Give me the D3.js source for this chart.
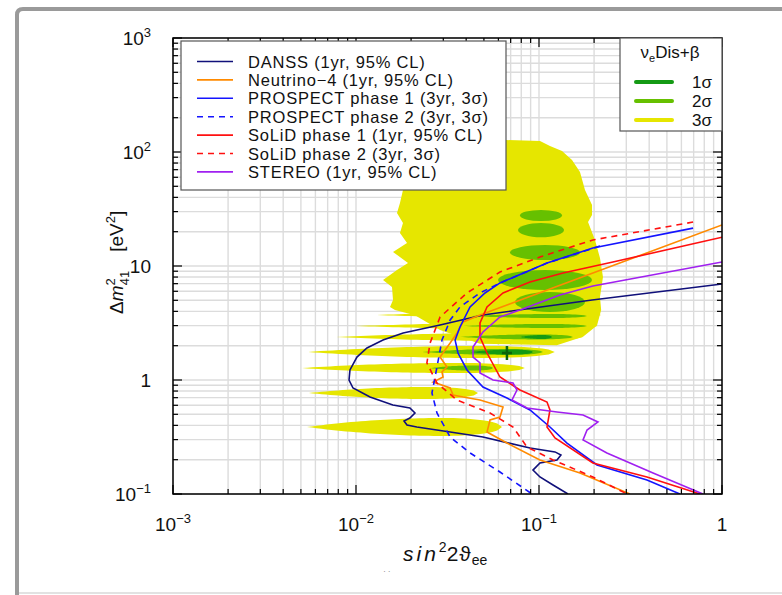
<!DOCTYPE html>
<html>
<head>
<meta charset="utf-8">
<script src="https://cdn.jsdelivr.net/npm/d3@7"></script>
<style>
body { margin: 0; background: #fff; }
svg { display: block; font-family: "Liberation Sans", Arial, Helvetica, sans-serif; }
</style>
</head>
<body>
<svg id="chart" width="782" height="595"></svg>
<script>
// axis ticks
var xTicks = [1e-3, 1e-2, 1e-1, 1];
var xTickLabels = [["10", "\u22123"], ["10", "\u22122"], ["10", "\u22121"], ["1", ""]];
var yTicks = [0.1, 1, 10, 100, 1000];
var yTickLabels = [["10", "\u22121"], ["1", ""], ["10", ""], ["10", "2"], ["10", "3"]];

// sensitivity curves [sin^2 2theta, dm^2]
var danss = [[1.0,6.95],[0.195,5.03],[0.0494,3.72],[0.0288,3.04],[0.0181,2.58],[0.01405,2.24],[0.01148,1.91],
  [0.01012,1.59],[0.00927,1.224],[0.00916,1.0],[0.00963,0.851],[0.01193,0.709],[0.0159,0.604],[0.0197,0.568],
  [0.0210,0.514],[0.0197,0.464],[0.0183,0.437],[0.0190,0.403],[0.0215,0.387],[0.0327,0.350],[0.0494,0.316],
  [0.0893,0.253],[0.1223,0.234],[0.1318,0.220],[0.1254,0.199],[0.1012,0.187],[0.0927,0.162],[0.1012,0.141],
  [0.1193,0.120],[0.144,0.1]];
var neutrino4 = [[1.0,22.9],[0.0476,3.72],[0.0385,3.23],[0.0356,2.58],[0.0327,2.11],[0.0288,1.59],[0.0314,1.30],
  [0.0295,1.175],[0.0299,1.062],[0.0264,0.960],[0.0327,0.851],[0.0339,0.739],[0.0385,0.709],[0.0476,0.668],
  [0.0636,0.580],[0.0612,0.473],[0.0540,0.446],[0.0520,0.350],[0.0668,0.280],[0.1012,0.199],[0.1675,0.153],[0.314,0.1]];
var prospect1 = [[0.695,21.5],[0.197,14.4],[0.1106,10.6],[0.0612,7.10],[0.0507,5.80],[0.0420,4.37],[0.0370,2.92],
  [0.0348,2.24],[0.0361,1.725],[0.0404,1.224],[0.0494,0.868],[0.0668,0.695],[0.0893,0.546],[0.1148,0.387],
  [0.1422,0.280],[0.2075,0.1796],[0.389,0.1327],[0.589,0.1]];
var prospect2 = [[0.2154,14.97],[0.1106,10.6],[0.0612,7.10],[0.0476,5.80],[0.0370,4.37],[0.0327,3.36],[0.0295,2.24],
  [0.0277,1.30],[0.0260,0.769],[0.0277,0.514],[0.0327,0.316],[0.0420,0.229],[0.0612,0.156],[0.0916,0.1]];
var solid1 = [[1.0,17.9],[0.2535,10.84],[0.1352,8.68],[0.0893,7.24],[0.0636,5.80],[0.0520,4.37],[0.0476,3.16],
  [0.0476,2.38],[0.0520,1.725],[0.0612,1.062],[0.0787,0.817],[0.1106,0.641],[0.1148,0.546],[0.1106,0.387],
  [0.1223,0.310],[0.197,0.187],[0.389,0.141],[0.758,0.1]];
var solid2 = [[0.695,24.3],[0.197,16.9],[0.1012,12.0],[0.0612,8.86],[0.0404,5.80],[0.0288,3.57],[0.0254,2.11],
  [0.0244,1.41],[0.0277,0.941],[0.0356,0.668],[0.0540,0.514],[0.0721,0.387],[0.0860,0.258],[0.1194,0.199],
  [0.197,0.141],[0.303,0.1]];
var stereo = [[1.0,10.84],[0.197,6.68],[0.130,5.57],[0.0787,4.11],[0.0612,3.57],[0.0494,2.64],[0.0436,1.95],
  [0.0436,1.59],[0.0476,1.41],[0.0476,1.152],[0.0561,1.0],[0.0721,0.941],[0.0758,0.817],[0.0712,0.668],
  [0.0860,0.568],[0.1254,0.524],[0.174,0.493],[0.210,0.428],[0.183,0.364],[0.174,0.298],[0.235,0.229],
  [0.420,0.153],[0.787,0.1]];

// nu_e disappearance + beta allowed regions
var blob3 = [[0.01806,46.4],[0.0197,69.5],[0.02537,115.2],[0.0420,127.4],[0.0660,127.4],[0.1013,124.9],
  [0.1148,112.9],[0.1336,102.0],[0.1515,85.1],[0.1675,66.8],[0.1784,46.4],[0.1949,34.3],[0.1949,28.0],
  [0.1853,24.3],[0.2023,16.9],[0.2154,11.75],[0.2237,8.01],[0.2154,5.35],[0.2186,4.11],[0.2075,3.00],
  [0.174,2.40],[0.125,2.02],[0.0476,2.08],[0.0288,2.75],[0.0210,3.70],[0.01633,4.11],
  [0.01534,4.37],[0.01593,5.03],[0.01573,6.54],[0.01405,7.54],[0.01675,9.22],[0.01924,10.6],[0.01593,13.3],
  [0.0190,15.9],[0.01739,19.5],[0.01806,23.8],[0.01675,29.2],[0.01739,35.7]];
// islands: [sin lo, sin hi, dm lo, dm hi]
var band3 = [[0.0130,0.219,3.50,3.95],[0.0101,0.208,2.80,3.16],[0.00778,0.174,2.20,2.58],[0.00547,0.122,1.56,1.99],
  [0.00507,0.0837,1.15,1.41],[0.00553,0.0464,0.681,0.868],[0.0054,0.0628,0.323,0.464]];
var blob2 = [[0.0787,0.1336,24.8,31.0],[0.0768,0.137,17.9,23.8],[0.0694,0.1675,11.3,15.3],[0.0597,0.1949,6.16,9.22],
  [0.0739,0.1784,3.95,5.92]];
var band2 = [[0.0420,0.183,3.50,3.79],[0.0385,0.183,2.86,3.10],[0.0370,0.1534,2.27,2.51],
  [0.0230,0.1052,1.66,1.87],[0.0254,0.0561,1.21,1.34]];
var band1 = [[0.0787,0.1178,2.29,2.48],[0.0420,0.0927,1.67,1.85]];
var bestFit = [0.0668, 1.725];

var curveNames = ["DANSS (1yr, 95% CL)", "Neutrino\u22124 (1yr, 95% CL)", "PROSPECT phase 1 (3yr, 3\u03c3)",
  "PROSPECT phase 2 (3yr, 3\u03c3)", "SoLiD phase 1 (1yr, 95% CL)", "SoLiD phase 2 (3yr, 3\u03c3)", "STEREO (1yr, 95% CL)"];
var curveData = [danss, neutrino4, prospect1, prospect2, solid1, solid2, stereo];
var curveColors = ["#10107a", "#ff8a00", "#1414ff", "#1414ff", "#ff1010", "#ff1010", "#a020f0"];
var curveDashed = [false, false, false, true, false, true, false];
var regionNames = ["1\u03c3", "2\u03c3", "3\u03c3"];
var regionColors = ["#149a14", "#66c000", "#e6e600"];

var svg = d3.select("#chart");
var x = d3.scaleLog().domain([1e-3, 1]).range([173, 722]);
var y = d3.scaleLog().domain([0.1, 1000]).range([494, 38]);

function isMajor(v) { var l = Math.log10(v); return Math.abs(l - Math.round(l)) < 1e-6; }

// outer panel border
svg.append("path").attr("d", "M17,595 L17,15 Q17,9 23,9 L782,9")
  .attr("fill", "none").attr("stroke", "#9a9a9a").attr("stroke-width", 4);
svg.append("line").attr("x1", 19).attr("x2", 782).attr("y1", 593).attr("y2", 593)
  .attr("stroke", "#e2e2e2").attr("stroke-width", 2);

svg.append("clipPath").attr("id", "plotclip").append("rect")
  .attr("x", 173).attr("y", 38).attr("width", 549).attr("height", 456);

// grid
var grid = svg.append("g").attr("stroke", "#dcdcdc").attr("stroke-width", 1.4);
x.ticks().forEach(function(v) {
  grid.append("line").attr("x1", x(v)).attr("x2", x(v)).attr("y1", 38).attr("y2", 494);
});
y.ticks().forEach(function(v) {
  grid.append("line").attr("x1", 173).attr("x2", 722).attr("y1", y(v)).attr("y2", y(v));
});

var plot = svg.append("g").attr("clip-path", "url(#plotclip)");

// island outline: pointed on the left, rounded on the right
function island(d) {
  var x0 = x(d[0]), x1 = x(d[1]), cy = (y(d[2]) + y(d[3])) / 2, ry = (y(d[2]) - y(d[3])) / 2;
  var w = x1 - x0, top = [], bot = [];
  for (var k = 0; k <= 40; k++) {
    var t = k / 40, f;
    if (t < 0.7) { var u = (0.7 - t) / 0.7; f = 1 - u * u; }
    else { var v = (t - 0.7) / 0.3; f = Math.sqrt(Math.max(0, 1 - v * v)); }
    top.push([x0 + t * w, cy - ry * f]);
    bot.unshift([x0 + t * w, cy + ry * f]);
  }
  return "M" + top.concat(bot).map(function(p) { return p[0].toFixed(1) + "," + p[1].toFixed(1); }).join("L") + "Z";
}
function band(g, list, color) {
  g.selectAll(null).data(list).enter().append("path").attr("d", island).attr("fill", color);
}
function blobs(g, list, color) {
  g.selectAll(null).data(list).enter().append("ellipse")
    .attr("cx", function(d) { return (x(d[0]) + x(d[1])) / 2; })
    .attr("cy", function(d) { return (y(d[2]) + y(d[3])) / 2; })
    .attr("rx", function(d) { return (x(d[1]) - x(d[0])) / 2; })
    .attr("ry", function(d) { return (y(d[2]) - y(d[3])) / 2; })
    .attr("fill", color);
}

plot.append("path").datum(blob3)
  .attr("d", d3.line().x(function(d) { return x(d[0]); }).y(function(d) { return y(d[1]); }).curve(d3.curveLinearClosed))
  .attr("fill", regionColors[2]);
band(plot, band3, regionColors[2]);
blobs(plot, blob2, regionColors[1]);
band(plot, band2, regionColors[1]);
band(plot, band1, regionColors[0]);

// best fit marker
plot.append("path")
  .attr("d", "M" + (x(bestFit[0]) - 5) + "," + y(bestFit[1]) + "h10M" + x(bestFit[0]) + "," + (y(bestFit[1]) - 7) + "v14")
  .attr("stroke", "#0b640b").attr("stroke-width", 2.5);

var line = d3.line().x(function(d) { return x(d[0]); }).y(function(d) { return y(d[1]); });
curveData.forEach(function(c, i) {
  plot.append("path").datum(c).attr("d", line)
    .attr("fill", "none").attr("stroke", curveColors[i]).attr("stroke-width", 1.6)
    .attr("stroke-dasharray", curveDashed[i] ? "6,5" : null);
});

// frame + inward ticks
svg.append("rect").attr("x", 173).attr("y", 38).attr("width", 549).attr("height", 456)
  .attr("fill", "none").attr("stroke", "#000").attr("stroke-width", 1.5);
var tk = svg.append("g").attr("stroke", "#000").attr("stroke-width", 1.2);
x.ticks().forEach(function(v) {
  var len = isMajor(v) ? 9 : 5;
  tk.append("line").attr("x1", x(v)).attr("x2", x(v)).attr("y1", 494).attr("y2", 494 - len);
  tk.append("line").attr("x1", x(v)).attr("x2", x(v)).attr("y1", 38).attr("y2", 38 + len);
});
y.ticks().forEach(function(v) {
  var len = isMajor(v) ? 9 : 5;
  tk.append("line").attr("x1", 173).attr("x2", 173 + len).attr("y1", y(v)).attr("y2", y(v));
  tk.append("line").attr("x1", 722).attr("x2", 722 - len).attr("y1", y(v)).attr("y2", y(v));
});

// tick labels
xTicks.forEach(function(v, i) {
  var t = svg.append("text").attr("x", x(v)).attr("y", 531).attr("text-anchor", "middle")
    .attr("font-size", 19).attr("fill", "#111").text(xTickLabels[i][0]);
  if (xTickLabels[i][1]) t.append("tspan").attr("font-size", 13).attr("dy", -8).text(xTickLabels[i][1]);
});
yTicks.forEach(function(v, i) {
  var t = svg.append("text").attr("x", 151).attr("y", y(v) + 7).attr("text-anchor", "end")
    .attr("font-size", 19).attr("fill", "#111").text(yTickLabels[i][0]);
  if (yTickLabels[i][1]) t.append("tspan").attr("font-size", 13).attr("dy", -8).text(yTickLabels[i][1]);
});

// axis titles
var xt = svg.append("text").attr("x", 403).attr("y", 561).attr("font-size", 21).attr("fill", "#111");
xt.append("tspan").attr("font-style", "italic").attr("letter-spacing", 3).text("sin");
xt.append("tspan").attr("font-size", 14).attr("dy", -9).text("2");
xt.append("tspan").attr("dy", 9).attr("letter-spacing", 1).text("2\u03d1");
xt.append("tspan").attr("font-size", 14).attr("dy", 4).text("ee");
svg.append("text").attr("x", 383).attr("y", 571).attr("font-size", 8).attr("fill", "#666").text("\u02cf \u02ce");

var yt = svg.append("text").attr("transform", "translate(123,314) rotate(-90)").attr("font-size", 19).attr("fill", "#111");
yt.append("tspan").text("\u0394");
yt.append("tspan").attr("font-style", "italic").text("m");
yt.append("tspan").attr("font-size", 13).attr("dy", -8).text("2");
yt.append("tspan").attr("font-size", 13).attr("dx", -7).attr("dy", 14).text("41");
yt.append("tspan").attr("dy", -6).text("\u2003[eV");
yt.append("tspan").attr("font-size", 13).attr("dy", -8).text("2");
yt.append("tspan").attr("dy", 8).text("]");

// legend: experiments
var lg = svg.append("g");
lg.append("rect").attr("x", 181).attr("y", 41).attr("width", 325).attr("height", 149)
  .attr("fill", "#fff").attr("stroke", "#555").attr("stroke-width", 1.2);
curveNames.forEach(function(n, i) {
  var yy = 61.5 + i * 18.4;
  lg.append("line").attr("x1", 197).attr("x2", 233).attr("y1", yy).attr("y2", yy)
    .attr("stroke", curveColors[i]).attr("stroke-width", 1.6)
    .attr("stroke-dasharray", curveDashed[i] ? "6,5" : null);
  lg.append("text").attr("x", 248).attr("y", yy + 6).attr("font-size", 16.5).attr("letter-spacing", 0.8)
    .attr("fill", "#111").text(n);
});

// legend: allowed regions
var lg2 = svg.append("g");
lg2.append("rect").attr("x", 620).attr("y", 38).attr("width", 102).attr("height", 93)
  .attr("fill", "#fff").attr("stroke", "#555").attr("stroke-width", 1.2);
var tt = lg2.append("text").attr("x", 670).attr("y", 58).attr("text-anchor", "middle").attr("font-size", 17).attr("fill", "#111");
tt.append("tspan").text("\u03bd");
tt.append("tspan").attr("font-size", 11).attr("dy", 4).text("e");
tt.append("tspan").attr("dy", -4).text("Dis+\u03b2");
regionNames.forEach(function(n, i) {
  var yy = 82 + i * 19;
  lg2.append("line").attr("x1", 636).attr("x2", 672).attr("y1", yy).attr("y2", yy)
    .attr("stroke", regionColors[i]).attr("stroke-width", 4).attr("stroke-linecap", "round");
  lg2.append("text").attr("x", 712).attr("y", yy + 6).attr("text-anchor", "end").attr("font-size", 17).attr("fill", "#111").text(n);
});
</script>
</body>
</html>
